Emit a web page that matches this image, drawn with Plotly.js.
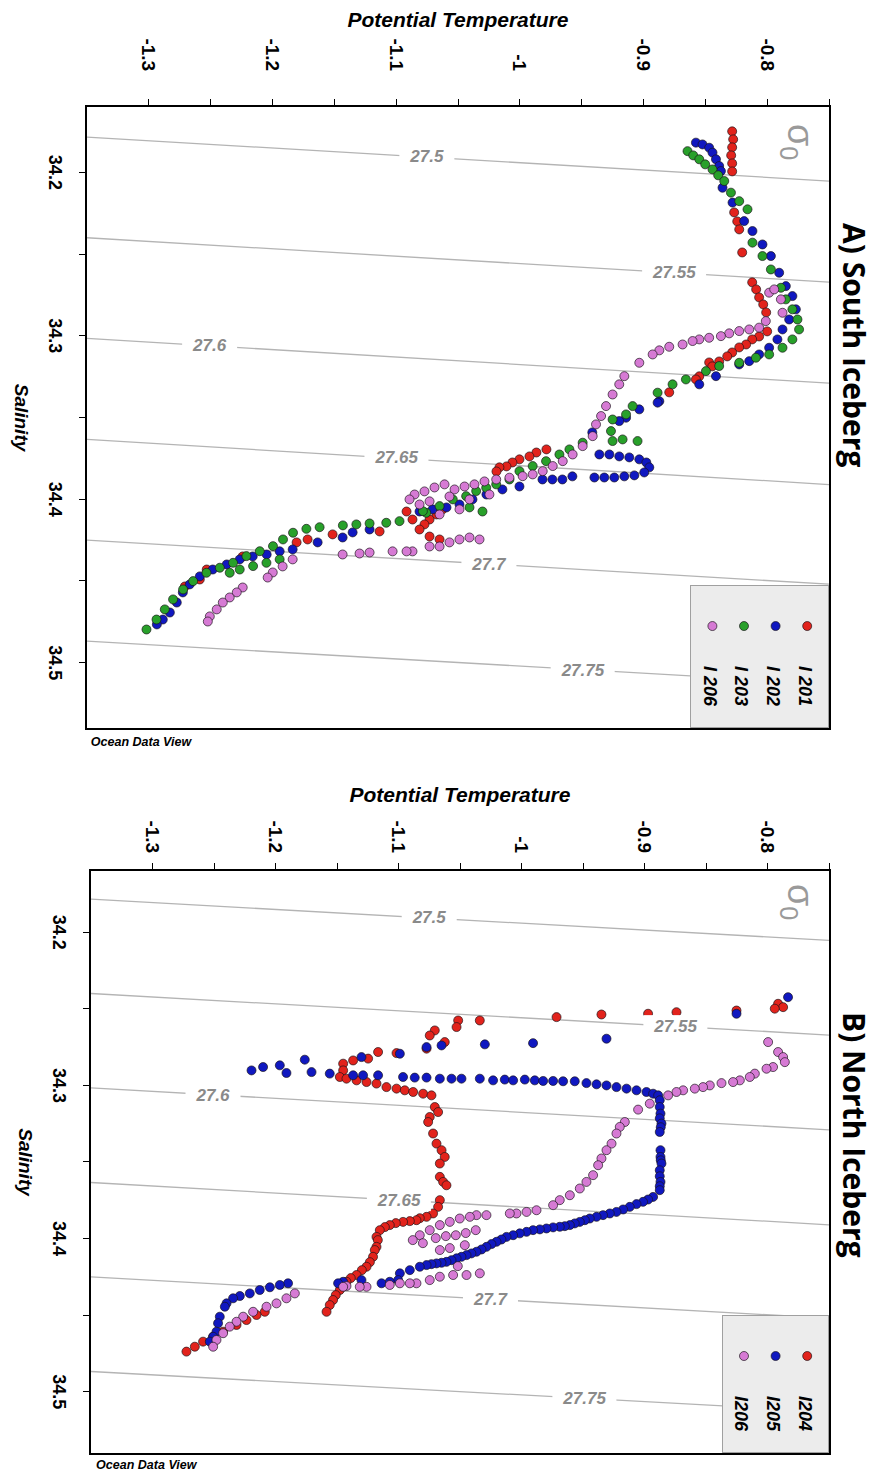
<!DOCTYPE html>
<html>
<head>
<meta charset="utf-8">
<script src="https://cdn.plot.ly/plotly-3.0.1.min.js"></script>
<style>
html,body{margin:0;padding:0;background:#fff;overflow:hidden;width:880px;height:1472px;}
#chart{position:absolute;left:0;top:0;width:1472px;height:880px;transform-origin:0 0;transform:translate(880px,0) rotate(90deg);}
</style>
</head>
<body>
<div id="chart"></div>
<script>
// ---------- axes ----------
const salRange = [34.16, 34.54];
const tempRange = [-1.35, -0.75];
const salTickVals = [34.2, 34.3, 34.4, 34.5];
const salTickText = ['34.2', '34.3', '34.4', '34.5'];
const salMinorVals = [34.25, 34.35, 34.45];
const tempTickVals = [-1.3, -1.2, -1.1, -1.0, -0.9, -0.8];
const tempTickText = ['-1.3', '-1.2', '-1.1', '-1', '-0.9', '-0.8'];
const tempMinorVals = [-1.25, -1.15, -1.05, -0.95, -0.85, -0.75];

// ---------- sigma-0 isopycnals (salinity where each crosses the cold / warm plot edges) ----------
const sigmaLevels = [27.5, 27.55, 27.6, 27.65, 27.7, 27.75];
const sigmaEdgeTemps = [-1.35, -0.75];
const sigmaSalColdEdge = [34.1784, 34.2400, 34.3016, 34.3634, 34.4250, 34.4868];
const sigmaSalWarmEdge = [34.2053, 34.2671, 34.3290, 34.3910, 34.4520, 34.5130];
const sigmaLabelTemps = [-1.075, -0.875, -1.251, -1.100, -1.025, -0.949];

// ---------- panel titles / legend names ----------
const panelTitles = ['A) South Iceberg', 'B) North Iceberg'];
const southNames = ['I 201', 'I 202', 'I 203', 'I 206'];
const northNames = ['I204', 'I205', 'I206'];

// ---------- South iceberg stations: [salinity, potential temperature] ----------
const southI201 = [[34.1749,-0.8283],[34.1798,-0.8275],[34.1847,-0.8283],[34.1896,-0.8291],[34.1945,-0.8283],[34.1994,-0.8283],[34.2245,-0.8267],[34.2300,-0.8242],[34.2349,-0.8226],[34.2490,-0.8202],[34.2673,-0.8121],[34.2716,-0.8089],[34.2765,-0.8065],[34.2808,-0.8032],[34.2857,-0.8008],[34.2973,-0.8000],[34.3004,-0.8065],[34.3022,-0.8121],[34.3053,-0.8170],[34.3071,-0.8226],[34.3102,-0.8283],[34.3126,-0.8323],[34.3163,-0.8469],[34.3157,-0.8388],[34.3187,-0.8444],[34.3248,-0.8549],[34.3267,-0.8576],[34.3346,-0.8792],[34.3695,-0.9785],[34.3714,-0.9866],[34.3738,-0.9922],[34.3756,-1.0003],[34.3775,-1.0060],[34.3799,-1.0108],[34.3805,-1.0165],[34.3830,-1.0189],[34.4062,-1.0625],[34.4093,-1.0674],[34.4124,-1.0730],[34.4154,-1.0771],[34.4185,-1.0811],[34.4228,-1.0730],[34.4246,-1.0649],[34.4075,-1.0916],[34.4124,-1.0868],[34.4197,-1.1134],[34.4215,-1.1514],[34.4246,-1.1716],[34.4264,-1.1805],[34.4350,-1.2241],[34.4430,-1.2532],[34.4491,-1.2588],[34.4534,-1.2709]];
const southI202 = [[34.1818,-0.8576],[34.1829,-0.8523],[34.1849,-0.8469],[34.1879,-0.8442],[34.1920,-0.8414],[34.1961,-0.8388],[34.1992,-0.8374],[34.2094,-0.8361],[34.2185,-0.8280],[34.2298,-0.8186],[34.2359,-0.8119],[34.2441,-0.8038],[34.2512,-0.7970],[34.2614,-0.7903],[34.2696,-0.7849],[34.2757,-0.7796],[34.2838,-0.7768],[34.2900,-0.7822],[34.2961,-0.7876],[34.3022,-0.7917],[34.3073,-0.7984],[34.3114,-0.8065],[34.3155,-0.8145],[34.3175,-0.8226],[34.3247,-0.8414],[34.3297,-0.8549],[34.3400,-0.8872],[34.3450,-0.9034],[34.3501,-0.9141],[34.3522,-0.9196],[34.3409,-0.8886],[34.3591,-0.9414],[34.3726,-0.9357],[34.3726,-0.9276],[34.3738,-0.9196],[34.3744,-0.9115],[34.3756,-0.9034],[34.3775,-0.8977],[34.3805,-0.8953],[34.3836,-0.8994],[34.3854,-0.9074],[34.3860,-0.9155],[34.3867,-0.9236],[34.3867,-0.9317],[34.3867,-0.9397],[34.3860,-0.9575],[34.3879,-0.9656],[34.3879,-0.9737],[34.3879,-0.9817],[34.3922,-1.0003],[34.3940,-1.0141],[34.3971,-1.0270],[34.4001,-1.0383],[34.4032,-1.0488],[34.4050,-1.0593],[34.4062,-1.0706],[34.4075,-1.0811],[34.4185,-1.1215],[34.4203,-1.1352],[34.4234,-1.1433],[34.4264,-1.1635],[34.4307,-1.1837],[34.4319,-1.1942],[34.4338,-1.2047],[34.4350,-1.2160],[34.4368,-1.2265],[34.4399,-1.2370],[34.4430,-1.2483],[34.4472,-1.2588],[34.4521,-1.2669],[34.4570,-1.2725],[34.4632,-1.2774],[34.4693,-1.2830],[34.4736,-1.2887],[34.4766,-1.2935]];
const southI203 = [[34.1870,-0.8644],[34.1896,-0.8598],[34.1920,-0.8549],[34.1951,-0.8501],[34.1982,-0.8442],[34.2018,-0.8396],[34.2053,-0.8347],[34.2124,-0.8293],[34.2176,-0.8226],[34.2226,-0.8159],[34.2430,-0.8119],[34.2512,-0.8038],[34.2594,-0.7970],[34.2706,-0.7889],[34.2777,-0.7849],[34.2838,-0.7796],[34.2900,-0.7755],[34.2961,-0.7742],[34.3022,-0.7796],[34.3073,-0.7876],[34.3114,-0.7984],[34.3134,-0.8091],[34.3165,-0.8226],[34.3185,-0.8388],[34.3216,-0.8495],[34.3267,-0.8657],[34.3297,-0.8765],[34.3348,-0.8886],[34.3430,-0.9088],[34.3481,-0.9141],[34.3512,-0.9250],[34.3583,-0.9263],[34.3644,-0.9250],[34.3634,-0.9169],[34.3644,-0.9048],[34.3654,-0.9492],[34.3695,-0.9599],[34.3726,-0.9680],[34.3767,-0.9788],[34.3797,-0.9896],[34.3828,-1.0003],[34.3879,-1.0084],[34.3909,-1.0191],[34.3930,-1.0272],[34.3950,-1.0353],[34.3981,-1.0434],[34.4001,-1.0542],[34.4042,-1.0649],[34.4083,-1.0757],[34.4050,-1.0407],[34.4075,-1.0302],[34.4073,-1.0784],[34.4134,-1.0973],[34.4144,-1.1080],[34.4148,-1.1215],[34.4154,-1.1322],[34.4160,-1.1431],[34.4171,-1.1619],[34.4181,-1.1726],[34.4205,-1.1834],[34.4246,-1.1915],[34.4287,-1.1996],[34.4318,-1.2103],[34.4348,-1.2211],[34.4389,-1.2319],[34.4419,-1.2426],[34.4450,-1.2534],[34.4501,-1.2642],[34.4552,-1.2723],[34.4613,-1.2804],[34.4674,-1.2871],[34.4736,-1.2938],[34.4797,-1.3019],[34.4368,-1.1942],[34.4389,-1.2049],[34.4409,-1.2157],[34.4430,-1.2265],[34.4450,-1.2346]];
const southI206 = [[34.2736,-0.7984],[34.2716,-0.7943],[34.2777,-0.7889],[34.2859,-0.7876],[34.2910,-0.8011],[34.2950,-0.8065],[34.2961,-0.8145],[34.2971,-0.8226],[34.2985,-0.8307],[34.3002,-0.8374],[34.3012,-0.8469],[34.3022,-0.8549],[34.3032,-0.8603],[34.3053,-0.8684],[34.3067,-0.8792],[34.3089,-0.8872],[34.3114,-0.8926],[34.3165,-0.9034],[34.3247,-0.9155],[34.3297,-0.9196],[34.3359,-0.9250],[34.3430,-0.9303],[34.3491,-0.9343],[34.3542,-0.9384],[34.3614,-0.9411],[34.3675,-0.9492],[34.3726,-0.9573],[34.3767,-0.9653],[34.3797,-0.9734],[34.3828,-0.9815],[34.3848,-0.9896],[34.3859,-0.9977],[34.3868,-1.0084],[34.3879,-1.0191],[34.3891,-1.0286],[34.3909,-1.0367],[34.3922,-1.0447],[34.3940,-1.0528],[34.3909,-1.0609],[34.3928,-1.0690],[34.3952,-1.0771],[34.3971,-1.0851],[34.4001,-1.0892],[34.4032,-1.0811],[34.4013,-1.0730],[34.3983,-1.0569],[34.4001,-1.0407],[34.3971,-1.0246],[34.4062,-1.0488],[34.4093,-1.0649],[34.4246,-1.0326],[34.4234,-1.0407],[34.4246,-1.0488],[34.4264,-1.0569],[34.4289,-1.0649],[34.4289,-1.0730],[34.4319,-1.0868],[34.4319,-1.0916],[34.4319,-1.1029],[34.4326,-1.1215],[34.4332,-1.1296],[34.4338,-1.1433],[34.4368,-1.1837],[34.4411,-1.1918],[34.4448,-1.1998],[34.4479,-1.2039],[34.4540,-1.2241],[34.4570,-1.2289],[34.4601,-1.2346],[34.4632,-1.2402],[34.4674,-1.2451],[34.4717,-1.2507],[34.4748,-1.2523]];

// ---------- North iceberg stations: [salinity, potential temperature] ----------
const northI204 = [[34.2467,-0.7914],[34.2489,-0.7873],[34.2499,-0.7941],[34.2511,-0.8252],[34.2522,-0.8740],[34.2532,-0.8971],[34.2537,-0.9350],[34.2554,-0.9715],[34.2576,-1.0339],[34.2576,-1.0515],[34.2619,-1.0528],[34.2717,-1.0624],[34.2641,-1.0705],[34.2674,-1.0746],[34.2760,-1.0772],[34.2789,-1.1016],[34.2782,-1.1166],[34.2825,-1.1247],[34.2837,-1.1369],[34.2858,-1.1450],[34.2902,-1.1450],[34.2945,-1.1477],[34.2956,-1.1423],[34.2967,-1.1341],[34.2978,-1.1260],[34.2988,-1.1179],[34.3011,-1.1098],[34.3021,-1.1016],[34.3032,-1.0949],[34.3043,-1.0881],[34.3054,-1.0800],[34.3065,-1.0732],[34.3141,-1.0705],[34.3174,-1.0678],[34.3206,-1.0746],[34.3239,-1.0759],[34.3314,-1.0719],[34.3380,-1.0691],[34.3423,-1.0650],[34.3467,-1.0624],[34.3510,-1.0664],[34.3597,-1.0664],[34.3630,-1.0637],[34.3652,-1.0610],[34.3749,-1.0664],[34.3793,-1.0678],[34.3836,-1.0719],[34.3858,-1.0772],[34.3867,-1.0827],[34.3880,-1.0854],[34.3886,-1.0908],[34.3891,-1.0963],[34.3899,-1.1022],[34.3912,-1.1071],[34.3925,-1.1111],[34.3945,-1.1152],[34.3989,-1.1179],[34.4010,-1.1168],[34.4054,-1.1179],[34.4075,-1.1193],[34.4119,-1.1207],[34.4154,-1.1233],[34.4184,-1.1260],[34.4206,-1.1298],[34.4238,-1.1341],[34.4258,-1.1388],[34.4282,-1.1423],[34.4310,-1.1453],[34.4336,-1.1477],[34.4369,-1.1510],[34.4401,-1.1532],[34.4434,-1.1559],[34.4478,-1.1585],[34.4478,-1.2087],[34.4499,-1.2154],[34.4532,-1.2236],[34.4564,-1.2317],[34.4608,-1.2426],[34.4641,-1.2507],[34.4673,-1.2589],[34.4706,-1.2656],[34.4738,-1.2724]];
const northI205 = [[34.2424,-0.7833],[34.2532,-0.8252],[34.2695,-0.9309],[34.2724,-0.9906],[34.2732,-1.0298],[34.2739,-1.0650],[34.2750,-1.0772],[34.2793,-1.0989],[34.2815,-1.1301],[34.2832,-1.1762],[34.2902,-1.2195],[34.2880,-1.2101],[34.2869,-1.1965],[34.2919,-1.1911],[34.2913,-1.1707],[34.2923,-1.1559],[34.2934,-1.1369],[34.2934,-1.1288],[34.2934,-1.1166],[34.2945,-1.0963],[34.2949,-1.0868],[34.2949,-1.0772],[34.2956,-1.0664],[34.2956,-1.0569],[34.2956,-1.0488],[34.2956,-1.0339],[34.2967,-1.0231],[34.2962,-1.0136],[34.2967,-1.0068],[34.2962,-0.9973],[34.2967,-0.9892],[34.2971,-0.9824],[34.2971,-0.9743],[34.2973,-0.9662],[34.2973,-0.9567],[34.2985,-0.9472],[34.2993,-0.9390],[34.3000,-0.9309],[34.3011,-0.9228],[34.3021,-0.9146],[34.3032,-0.9065],[34.3043,-0.8984],[34.3054,-0.8930],[34.3065,-0.8889],[34.3097,-0.8876],[34.3141,-0.8876],[34.3184,-0.8870],[34.3215,-0.8876],[34.3249,-0.8862],[34.3273,-0.8868],[34.3304,-0.8876],[34.3423,-0.8870],[34.3467,-0.8870],[34.3489,-0.8868],[34.3510,-0.8862],[34.3554,-0.8876],[34.3593,-0.8876],[34.3630,-0.8870],[34.3658,-0.8876],[34.3684,-0.8876],[34.3728,-0.8930],[34.3745,-0.8971],[34.3760,-0.9012],[34.3775,-0.9065],[34.3793,-0.9120],[34.3810,-0.9174],[34.3826,-0.9228],[34.3836,-0.9282],[34.3847,-0.9337],[34.3858,-0.9390],[34.3869,-0.9445],[34.3880,-0.9485],[34.3891,-0.9526],[34.3901,-0.9567],[34.3912,-0.9607],[34.3919,-0.9648],[34.3923,-0.9689],[34.3927,-0.9743],[34.3934,-0.9797],[34.3940,-0.9851],[34.3945,-0.9906],[34.3956,-0.9959],[34.3966,-1.0014],[34.3978,-1.0068],[34.3989,-1.0122],[34.4006,-1.0163],[34.4021,-1.0203],[34.4036,-1.0244],[34.4054,-1.0285],[34.4071,-1.0325],[34.4086,-1.0366],[34.4097,-1.0407],[34.4108,-1.0447],[34.4119,-1.0488],[34.4129,-1.0528],[34.4141,-1.0569],[34.4152,-1.0610],[34.4158,-1.0650],[34.4162,-1.0691],[34.4167,-1.0732],[34.4173,-1.0772],[34.4184,-1.0827],[34.4206,-1.0908],[34.4227,-1.0989],[34.4271,-1.1003],[34.4282,-1.1071],[34.4292,-1.1138],[34.4271,-1.1301],[34.4282,-1.1450],[34.4292,-1.1491],[34.4292,-1.1898],[34.4303,-1.1965],[34.4318,-1.2046],[34.4336,-1.2128],[34.4358,-1.2209],[34.4375,-1.2290],[34.4390,-1.2345],[34.4423,-1.2398],[34.4445,-1.2412],[34.4510,-1.2453],[34.4553,-1.2467],[34.4608,-1.2480],[34.4641,-1.2507],[34.4673,-1.2534]];
const northI206 = [[34.2717,-0.7995],[34.2782,-0.7914],[34.2815,-0.7873],[34.2848,-0.7859],[34.2880,-0.7955],[34.2891,-0.8008],[34.2923,-0.8103],[34.2945,-0.8144],[34.2967,-0.8225],[34.2978,-0.8280],[34.2985,-0.8374],[34.3000,-0.8469],[34.3011,-0.8524],[34.3021,-0.8591],[34.3032,-0.8686],[34.3043,-0.8740],[34.3065,-0.8808],[34.3119,-0.8957],[34.3158,-0.9052],[34.3239,-0.9160],[34.3271,-0.9201],[34.3314,-0.9228],[34.3380,-0.9268],[34.3423,-0.9309],[34.3477,-0.9350],[34.3521,-0.9377],[34.3586,-0.9418],[34.3630,-0.9472],[34.3673,-0.9526],[34.3717,-0.9607],[34.3749,-0.9689],[34.3782,-0.9743],[34.3815,-0.9878],[34.3826,-0.9959],[34.3836,-1.0041],[34.3836,-1.0095],[34.3847,-1.0285],[34.3847,-1.0366],[34.3858,-1.0420],[34.3869,-1.0502],[34.3891,-1.0583],[34.3912,-1.0664],[34.3945,-1.0746],[34.3978,-1.0827],[34.4010,-1.0884],[34.4030,-1.0802],[34.3997,-1.0697],[34.3984,-1.0615],[34.3978,-1.0534],[34.3964,-1.0453],[34.3945,-1.0372],[34.4062,-1.0583],[34.4075,-1.0664],[34.4043,-1.0461],[34.4180,-1.0518],[34.4227,-1.0339],[34.4238,-1.0447],[34.4238,-1.0556],[34.4249,-1.0664],[34.4271,-1.0746],[34.4292,-1.0854],[34.4292,-1.0908],[34.4292,-1.0989],[34.4303,-1.1071],[34.4315,-1.1260],[34.4315,-1.1315],[34.4310,-1.1423],[34.4315,-1.1450],[34.4358,-1.1843],[34.4390,-1.1911],[34.4423,-1.1992],[34.4445,-1.2073],[34.4478,-1.2182],[34.4510,-1.2263],[34.4543,-1.2317],[34.4575,-1.2372],[34.4618,-1.2426],[34.4662,-1.2480],[34.4706,-1.2507]];

// ---------- styling ----------
const FONT = 'Liberation Sans, Arial, Helvetica, sans-serif';
const colRed = '#e2231c', colBlue = '#1018c0', colGreen = '#28a02a', colOrchid = '#d67ad4';

function stationTrace(pairs, name, color, xa, ya, lg) {
  return {
    type: 'scatter', mode: 'markers',
    x: pairs.map(p => p[0]), y: pairs.map(p => p[1]),
    xaxis: xa, yaxis: ya, legend: lg,
    name: '<span style="font-size:18px"><b><i>' + name + '</i></b>&nbsp;&nbsp;&nbsp;</span>',
    marker: {size: 9, color: color, line: {width: 0.8, color: 'rgba(25,20,25,0.85)'}},
    hoverinfo: 'skip'
  };
}

function isoTraces(xa, ya) {
  return sigmaLevels.map((lvl, i) => ({
    type: 'scatter', mode: 'lines',
    x: [sigmaSalColdEdge[i], sigmaSalWarmEdge[i]], y: sigmaEdgeTemps,
    xaxis: xa, yaxis: ya, showlegend: false, hoverinfo: 'skip',
    line: {color: '#b4b4b4', width: 1.3}
  }));
}

function isoLabels(xr, yr) {
  return sigmaLevels.map((lvl, i) => {
    const f = (sigmaLabelTemps[i] - sigmaEdgeTemps[0]) / (sigmaEdgeTemps[1] - sigmaEdgeTemps[0]);
    const s = sigmaSalColdEdge[i] + f * (sigmaSalWarmEdge[i] - sigmaSalColdEdge[i]);
    return {
      xref: xr, yref: yr, x: s, y: sigmaLabelTemps[i], showarrow: false,
      xanchor: 'center', yanchor: 'middle',
      text: '&nbsp;&nbsp;<b><i>' + String(lvl) + '</i></b>&nbsp;&nbsp;',
      textangle: -90, bgcolor: '#ffffff', borderpad: 1,
      font: {family: FONT, size: 17, color: '#8a8a8a'}
    };
  });
}

function salAxis(domain, anchor) {
  return {
    domain: domain, anchor: anchor, range: salRange, side: 'bottom',
    tickmode: 'array', tickvals: salTickVals, ticktext: salTickText,
    ticks: 'outside', ticklen: 6, tickwidth: 1, tickcolor: '#000',
    minor: {tickmode: 'array', tickvals: salMinorVals, ticks: 'outside', ticklen: 6, tickwidth: 1, tickcolor: '#000', showgrid: false},
    ticklabelstandoff: 8,
    showline: true, mirror: true, linecolor: '#000', linewidth: 2,
    showgrid: false, zeroline: false, automargin: false,
    tickfont: {family: FONT, size: 18, color: '#000', weight: 'bold'},
    title: {text: '<b><i>Salinity</i></b>', font: {family: FONT, size: 19, color: '#000'}, standoff: 18}
  };
}
function tempAxis(domain, anchor, labelGap, titleGap) {
  return {
    domain: domain, anchor: anchor, range: tempRange, side: 'left',
    tickmode: 'array', tickvals: tempTickVals, ticktext: tempTickText,
    ticks: 'outside', ticklen: 6, tickwidth: 1, tickcolor: '#000',
    minor: {tickmode: 'array', tickvals: tempMinorVals, ticks: 'outside', ticklen: 6, tickwidth: 1, tickcolor: '#000', showgrid: false},
    ticklabelstandoff: labelGap,
    showline: true, mirror: true, linecolor: '#000', linewidth: 2,
    showgrid: false, zeroline: false, automargin: false,
    tickfont: {family: FONT, size: 19, color: '#000', weight: 'bold'},
    title: {text: '<b><i>Potential Temperature</i></b>', font: {family: FONT, size: 21, color: '#000'}, standoff: titleGap}
  };
}

const traces = [].concat(
  isoTraces('x', 'y'),
  isoTraces('x2', 'y2'),
  [
    stationTrace(southI201, southNames[0], colRed, 'x', 'y', 'legend'),
    stationTrace(southI202, southNames[1], colBlue, 'x', 'y', 'legend'),
    stationTrace(southI203, southNames[2], colGreen, 'x', 'y', 'legend'),
    stationTrace(southI206, southNames[3], colOrchid, 'x', 'y', 'legend'),
    stationTrace(northI204, northNames[0], colRed, 'x2', 'y2', 'legend2'),
    stationTrace(northI205, northNames[1], colBlue, 'x2', 'y2', 'legend2'),
    stationTrace(northI206, northNames[2], colOrchid, 'x2', 'y2', 'legend2')
  ]
);

const legendStyle = {
  xanchor: 'right', yanchor: 'top', y: 1,
  bgcolor: '#ececec', bordercolor: '#a0a0a0', borderwidth: 1,
  font: {family: FONT, size: 22, color: '#000'}, itemwidth: 70, traceorder: 'normal'
};

const paperText = (x, y, text, size, color, angle, family) => ({
  xref: 'paper', yref: 'paper', x: x, y: y, xanchor: 'center', yanchor: 'middle',
  showarrow: false, text: text, textangle: angle,
  font: {family: family || FONT, size: size, color: color}
});

const annotations = [].concat(
  isoLabels('x', 'y'),
  isoLabels('x2', 'y2'),
  [
    paperText(0.1768, 1.035, '<b>' + panelTitles[0] + '</b>', 30, '#000', 0, 'Open Sans, Liberation Sans, sans-serif'),
    paperText(0.7637, 1.035, '<b>' + panelTitles[1] + '</b>', 30, '#000', 0, 'Open Sans, Liberation Sans, sans-serif'),
    paperText(0.026, 0.958, 'σ<sub>0</sub>', 36, '#9a9a9a', 0),
    paperText(0.5906, 0.958, 'σ<sub>0</sub>', 36, '#9a9a9a', 0),
    paperText(0.4718, 0.074, '<b><i>Ocean Data View</i></b>', 12.5, '#000', -90),
    paperText(1.0089, 0.081, '<b><i>Ocean Data View</i></b>', 12.5, '#000', -90)
  ]
);

const layout = {
  width: 1472, height: 880,
  margin: {l: 107, r: 19, t: 51, b: 87},
  paper_bgcolor: '#ffffff', plot_bgcolor: '#ffffff',
  font: {family: FONT, color: '#000'},
  showlegend: true,
  xaxis: salAxis([0, 0.4614], 'y'),
  yaxis: tempAxis([0, 1], 'x', 24, 5),
  xaxis2: salAxis([0.5676, 1], 'y2'),
  yaxis2: tempAxis([0.0054, 1], 'x2', 6, 12),
  legend: Object.assign({x: 0.4614}, legendStyle),
  legend2: Object.assign({x: 1.0}, legendStyle),
  annotations: annotations
};

Plotly.newPlot('chart', traces, layout, {staticPlot: true, displayModeBar: false});
</script>
</body>
</html>
